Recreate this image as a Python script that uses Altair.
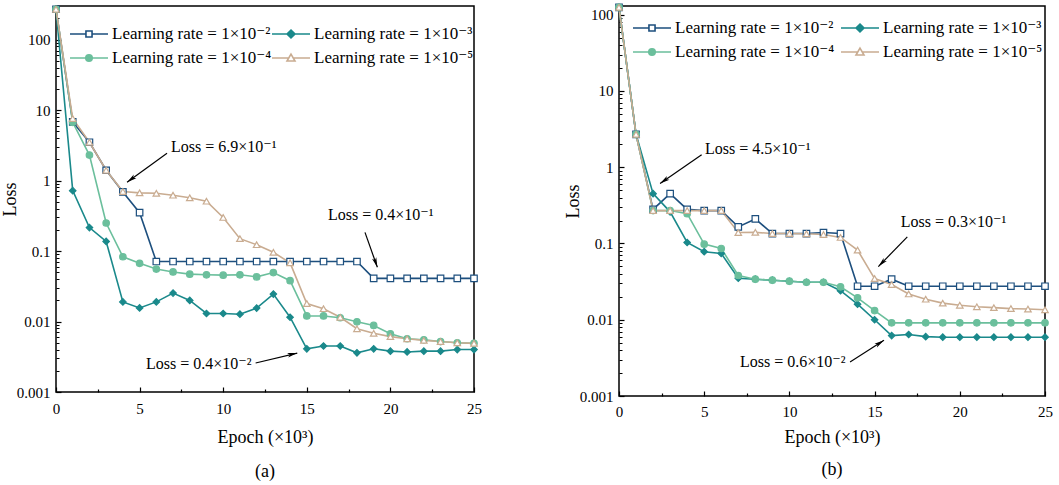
import altair as alt
import pandas as pd

FONT = "Liberation Serif, Times New Roman, DejaVu Serif, serif"

epochs = list(range(26))
series = ["Learning rate = 1×10⁻²", "Learning rate = 1×10⁻³",
          "Learning rate = 1×10⁻⁴", "Learning rate = 1×10⁻⁵"]

# ---- panel (a) ----
a_lr2 = [270, 6.8, 3.5, 1.4, 0.69, 0.35, 0.071, 0.071, 0.071, 0.071, 0.071, 0.071, 0.071,
         0.071, 0.071, 0.071, 0.071, 0.071, 0.071, 0.041, 0.041, 0.041, 0.041, 0.041, 0.041, 0.041]
a_lr3 = [270, 0.72, 0.215, 0.137, 0.019, 0.0156, 0.019, 0.0253, 0.0199, 0.013, 0.013, 0.0127, 0.0155,
         0.0245, 0.0115, 0.0041, 0.0045, 0.0045, 0.0036, 0.0041, 0.0038, 0.0037, 0.0038, 0.0038, 0.004, 0.004]
a_lr4 = [270, 6.7, 2.3, 0.25, 0.083, 0.067, 0.0555, 0.0505, 0.047, 0.046, 0.0455, 0.046, 0.043,
         0.0495, 0.038, 0.012, 0.012, 0.0113, 0.0099, 0.0088, 0.0067, 0.0057, 0.0055, 0.0052, 0.005, 0.0049]
a_lr5 = [270, 7.6, 3.5, 1.4, 0.7, 0.67, 0.66, 0.62, 0.57, 0.51, 0.3, 0.15, 0.123,
         0.096, 0.068, 0.018, 0.0152, 0.0115, 0.0079, 0.0068, 0.0061, 0.0057, 0.0054, 0.0052, 0.005, 0.0049]

# ---- panel (b) ----
b_lr2 = [125, 2.7, 0.28, 0.45, 0.28, 0.27, 0.27, 0.165, 0.21, 0.135, 0.135, 0.135, 0.139,
         0.135, 0.0275, 0.0275, 0.034, 0.0275, 0.0275, 0.0275, 0.0275, 0.0275, 0.0275, 0.0275, 0.0275, 0.0275]
b_lr3 = [125, 2.7, 0.45, 0.26, 0.103, 0.078, 0.074, 0.035, 0.034, 0.033, 0.032, 0.031, 0.031,
         0.024, 0.016, 0.01, 0.0062, 0.0064, 0.006, 0.0059, 0.0059, 0.0059, 0.0059, 0.0059, 0.0059, 0.0059]
b_lr4 = [125, 2.7, 0.27, 0.27, 0.246, 0.098, 0.086, 0.038, 0.034, 0.033, 0.032, 0.031, 0.031,
         0.027, 0.0194, 0.0132, 0.0091, 0.0091, 0.0091, 0.0091, 0.0091, 0.0091, 0.0091, 0.0091, 0.0091, 0.0091]
b_lr5 = [125, 2.7, 0.27, 0.27, 0.27, 0.27, 0.27, 0.139, 0.14, 0.135, 0.135, 0.134, 0.131,
         0.12, 0.082, 0.0346, 0.029, 0.0218, 0.0186, 0.0165, 0.0155, 0.0148, 0.0144, 0.014, 0.0138, 0.0135]

# ---- annotations (data coordinates) ----
a_note_text = ["Loss = 6.9×10⁻¹", "Loss = 0.4×10⁻¹", "Loss = 0.4×10⁻²"]
a_note_x = [6.88, 16.27, 5.38]
a_note_y = [2.99, 0.325, 0.0025]
a_arrow_x = [6.64, 18.48, 11.94]
a_arrow_y = [2.45, 0.184, 0.00258]
a_arrow_x2 = [4.25, 19.22, 14.43]
a_arrow_y2 = [0.95, 0.0588, 0.00357]
a_arrow_angle = [234, 161, 77]

b_note_text = ["Loss = 4.5×10⁻¹", "Loss = 0.3×10⁻¹", "Loss = 0.6×10⁻²"]
b_note_x = [5.05, 16.53, 7.10]
b_note_y = [1.73, 0.192, 0.00275]
b_arrow_x = [4.85, 16.92, 13.56]
b_arrow_y = [1.46, 0.122, 0.0028]
b_arrow_x2 = [2.41, 15.22, 15.55]
b_arrow_y2 = [0.61, 0.0498, 0.0054]
b_arrow_angle = [235, 224, 57]

colors = ["#1d4f7e", "#1a898b", "#6bbf9c", "#c9ac91"]
fills = ["#ffffff", "#1a898b", "#6bbf9c", "#ffffff"]
shapes = ["square", "diamond", "circle", "triangle-up"]
legend_shapes = [
    "M-1,0H-0.16M0.16,0H1M-0.16,-0.16H0.16V0.16H-0.16Z",
    "M-1,0H-0.21M0.21,0H1M0,-0.21L0.21,0L0,0.21L-0.21,0Z",
    "M-1,0H-0.17M0.17,0H1M-0.17,0A0.17,0.17 0 1,0 0.17,0A0.17,0.17 0 1,0 -0.17,0Z",
    "M-1,0H-0.12M0.12,0H1M0,-0.2L0.21,0.16H-0.21Z",
]
# legend grid: series index -> (column, row)
legend_cell = [(0, 0), (1, 0), (0, 1), (1, 1)]
ARROW = "M0,0L-0.75,3.3L0,2.5L0.75,3.3Z"

x_major = [0, 5, 10, 15, 20, 25]
x_minor = [2.5, 7.5, 12.5, 17.5, 22.5]
y_major = [0.001, 0.01, 0.1, 1, 10, 100]
y_minor_base = [2, 3, 4, 5, 6, 7, 8, 9]


def panel(vals, ymax, w, h, notes, leg_xs, leg_ys, tag, lpad, tpad, toff):
    df = pd.DataFrame({
        "epoch": epochs * 4,
        "loss": [v for s in vals for v in s],
        "series": [s for s in series for _ in epochs],
    })
    xs = alt.Scale(domain=[0, 25], nice=False, zero=False)
    ys = alt.Scale(type="log", domain=[0.001, ymax], nice=False)
    y_minor = [b * 10 ** k for k in range(-3, 3) for b in y_minor_base if b * 10 ** k < ymax]

    lab_x = alt.Axis(values=x_major, format="d", ticks=False, domain=False, grid=False,
                     labelPadding=lpad, labelFontSize=15, labelFont=FONT, labelColor="black",
                     labelFlush=False, labelOverlap=False,
                     title="Epoch (×10³)", titleFont=FONT, titleFontSize=18,
                     titleFontWeight="normal", titleColor="black", titlePadding=tpad)
    lab_y = alt.Axis(values=y_major, format="~g", ticks=False, domain=False, grid=False,
                     labelPadding=6, labelFontSize=15, labelFont=FONT, labelColor="black",
                     labelFlush=False, labelOverlap=False,
                     title="Loss", titleFont=FONT, titleFontSize=18,
                     titleFontWeight="normal", titleColor="black", titlePadding=-3)
    maj_x = alt.Axis(orient="bottom", values=x_major, offset=-5, tickSize=5, tickWidth=1.2,
                     tickColor="black", labels=False, domain=False, grid=False, title=None)
    maj_y = alt.Axis(orient="left", values=y_major, offset=-5, tickSize=5, tickWidth=1.2,
                     tickColor="black", labels=False, domain=False, grid=False, title=None)
    min_x = alt.Axis(orient="bottom", values=x_minor, offset=-3, tickSize=3, tickWidth=1.2,
                     tickColor="black", labels=False, domain=False, grid=False, title=None)
    min_y = alt.Axis(orient="left", values=y_minor, offset=-3, tickSize=3, tickWidth=1,
                     tickColor="black", labels=False, domain=False, grid=False, title=None)

    stroke_sc = alt.Scale(domain=series, range=colors)
    fill_sc = alt.Scale(domain=series, range=fills)

    lines = alt.Chart(df).mark_line(strokeWidth=1.6).encode(
        x=alt.X("epoch:Q", scale=xs, axis=lab_x),
        y=alt.Y("loss:Q", scale=ys, axis=lab_y),
        stroke=alt.Stroke("series:N", scale=stroke_sc, legend=None),
    )
    pts = alt.Chart(df).mark_point(filled=True, strokeWidth=1.2, opacity=1, size=42).encode(
        x=alt.X("epoch:Q", scale=xs, axis=maj_x),
        y=alt.Y("loss:Q", scale=ys, axis=maj_y),
        stroke=alt.Stroke("series:N", scale=stroke_sc, legend=None),
        fill=alt.Fill("series:N", scale=fill_sc, legend=None),
        shape=alt.Shape("series:N", scale=alt.Scale(domain=series, range=shapes), legend=None),
    )
    minor = alt.Chart(df).transform_filter("false").mark_point().encode(
        x=alt.X("epoch:Q", scale=xs, axis=min_x),
        y=alt.Y("loss:Q", scale=ys, axis=min_y),
    )

    legend_layers = []
    for i, (c, r) in enumerate(legend_cell):
        leg = alt.Legend(title=None, orient="none", legendX=leg_xs[c], legendY=leg_ys[r],
                         symbolSize=1444, symbolStrokeWidth=1.6, labelFont=FONT,
                         labelFontSize=17, labelColor="black", labelOffset=3, padding=0,
                         symbolOpacity=1, labelLimit=400)
        legend_layers.append(
            alt.Chart(df).transform_filter("false").mark_point(
                filled=True, strokeWidth=1.6, opacity=1).encode(
                stroke=alt.Stroke("series:N", scale=alt.Scale(domain=[series[i]],
                                  range=[colors[i]]), legend=leg),
                fill=alt.Fill("series:N", scale=alt.Scale(domain=[series[i]],
                              range=[fills[i]]), legend=leg),
                shape=alt.Shape("series:N", scale=alt.Scale(domain=[series[i]],
                                range=[legend_shapes[i]]), legend=leg),
            )
        )

    ndf = pd.DataFrame({
        "text": notes[0], "tx": notes[1], "ty": notes[2],
        "ax": notes[3], "ay": notes[4], "ax2": notes[5], "ay2": notes[6], "ang": notes[7],
    })
    rules = alt.Chart(ndf).mark_rule(color="black", strokeWidth=1.2).encode(
        x=alt.X("ax:Q", scale=xs, axis=None),
        y=alt.Y("ay:Q", scale=ys, axis=None),
        x2="ax2:Q", y2="ay2:Q",
    )
    heads = alt.Chart(ndf).mark_point(shape=ARROW, filled=True, color="black", size=36,
                                      opacity=1).encode(
        x=alt.X("ax2:Q", scale=xs, axis=None),
        y=alt.Y("ay2:Q", scale=ys, axis=None),
        angle=alt.Angle("ang:Q", scale=None),
    )
    texts = alt.Chart(ndf).mark_text(align="left", baseline="middle", font=FONT, fontSize=16,
                                     color="black").encode(
        x=alt.X("tx:Q", scale=xs, axis=None),
        y=alt.Y("ty:Q", scale=ys, axis=None),
        text="text:N",
    )

    return alt.layer(lines, pts, minor, *legend_layers, rules, heads, texts).resolve_scale(
        stroke="independent", fill="independent", shape="independent"
    ).resolve_axis(x="independent", y="independent").properties(
        width=w, height=h,
        title=alt.TitleParams(tag, orient="bottom", font=FONT, fontSize=18, fontWeight="normal",
                              color="black", offset=toff, anchor="middle", frame="group"),
    )


left = panel([a_lr2, a_lr3, a_lr4, a_lr5], 300, 418, 386,
             [a_note_text, a_note_x, a_note_y, a_arrow_x, a_arrow_y, a_arrow_x2, a_arrow_y2, a_arrow_angle],
             [13, 215], [8, 32], "(a)", 9, 12, 17)
right = panel([b_lr2, b_lr3, b_lr4, b_lr5], 130, 426, 390,
              [b_note_text, b_note_x, b_note_y, b_arrow_x, b_arrow_y, b_arrow_x2, b_arrow_y2, b_arrow_angle],
              [13, 221], [2, 26], "(b)", 8, 9, 15)

chart = alt.hconcat(left, right, spacing=80).resolve_scale(
    stroke="independent", fill="independent", shape="independent"
).properties(
    padding={"left": 0, "top": 0, "right": 0, "bottom": 0},
    background="white",
).configure_view(stroke="black", strokeWidth=1.5)

chart.save("out.html", embed_options={"renderer": "svg", "actions": False})
